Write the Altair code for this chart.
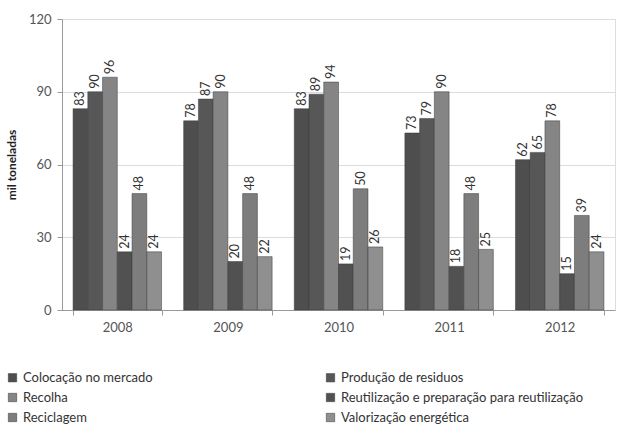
import altair as alt
import pandas as pd

years = ["2008", "2009", "2010", "2011", "2012"]
series = [
    "Colocação no mercado",
    "Produção de residuos",
    "Recolha",
    "Reutilização e preparação para reutilização",
    "Reciclagem",
    "Valorização energética",
]
colocacao = [83, 78, 83, 73, 62]
producao = [90, 87, 89, 79, 65]
recolha = [96, 90, 94, 90, 78]
reutilizacao = [24, 20, 19, 18, 15]
reciclagem = [48, 48, 50, 48, 39]
valorizacao = [24, 22, 26, 25, 24]
colors = ["#4e4e4e", "#575757", "#858585", "#515151", "#7d7d7d", "#8f8f8f"]

values = [colocacao, producao, recolha, reutilizacao, reciclagem, valorizacao]
rows = []
for s, vals in zip(series, values):
    for y, v in zip(years, vals):
        rows.append({"ano": y, "serie": s, "valor": v})
df = pd.DataFrame(rows)

FONT = "Lato"

x = alt.X("ano:N", title=None, scale=alt.Scale(paddingInner=0.2, paddingOuter=0.1),
          axis=alt.Axis(labelAngle=0, tickBand="extent", labelFontSize=13, labelColor="#555",
                        labelFont=FONT, domainColor="#999", tickColor="#999", tickSize=5,
                        labelPadding=6))
xo = alt.XOffset("serie:N", sort=series, scale=alt.Scale(domain=series))
y = alt.Y("valor:Q", title="mil toneladas",
          scale=alt.Scale(domain=[0, 120]),
          axis=alt.Axis(values=[0, 30, 60, 90, 120], labelFontSize=13, labelColor="#555",
                        labelFont=FONT, domainColor="#999", tickColor="#999", tickSize=5,
                        gridColor="#dcdcdc", titleFont=FONT, titleFontSize=12,
                        titleFontWeight="bold", titleColor="#222", titlePadding=10,
                        labelPadding=6))

color = alt.Color("serie:N", sort=series,
                  scale=alt.Scale(domain=series, range=colors),
                  legend=alt.Legend(title=None, orient="none", legendX=-56, legendY=352,
                                    direction="horizontal",
                                    columns=2, columnPadding=171, rowPadding=6,
                                    labelFont=FONT, labelFontSize=13, labelColor="#333",
                                    symbolType="square", symbolSize=70,
                                    symbolStrokeColor="#333", symbolStrokeWidth=0.5,
                                    labelLimit=400))

bars = alt.Chart(df).mark_bar(stroke="#3a3a3a", strokeWidth=0.5).encode(
    x=x, xOffset=xo, y=y, color=color
)
text = alt.Chart(df).mark_text(angle=270, align="left", baseline="middle", dx=3,
                               font=FONT, fontSize=12.5, color="#333").encode(
    x=alt.X("ano:N"), xOffset=xo, y=alt.Y("valor:Q"), text="valor:Q"
)

chart = alt.layer(bars, text).properties(
    width=553, height=291,
    padding={"left": 62, "top": 19, "right": 14, "bottom": 124},
    autosize=alt.AutoSizeParams(type="none"),
).configure_view(stroke=None).configure(background="white")

chart.save("out.html", embed_options={"renderer": "svg", "actions": False})
